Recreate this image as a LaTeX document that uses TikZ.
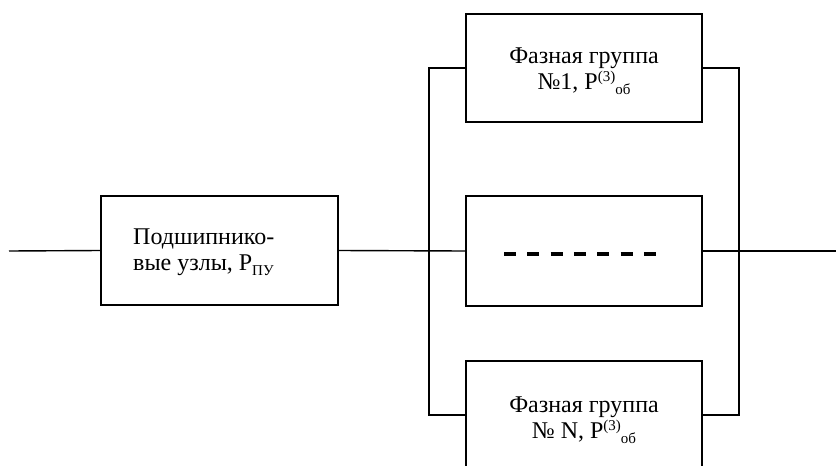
\documentclass[tikz,border=0pt]{standalone}
\usepackage{fontspec}
\setmainfont{Liberation Serif}
\newcommand{\smallidx}[1]{{\fontsize{15}{15}\selectfont #1}}
\newcommand{\lowidx}[1]{\raisebox{-4.5pt}{\smallidx{#1}}}
\newcommand{\highidx}[1]{\raisebox{8pt}{\smallidx{#1}}}
\begin{document}
\begin{tikzpicture}[x=1pt,y=-1pt,
  blockbox/.style={draw, line width=1.6pt, minimum width=236pt, minimum height=108pt, inner sep=0pt},
  wire/.style={line width=1.4pt},
  lbl/.style={font=\fontsize{24}{26.5}\selectfont, align=center, inner sep=0pt}]
\useasboundingbox (0,0) rectangle (836,466);
\clip (0,0) rectangle (836,466);

% bearing assembly block
\node[blockbox, minimum width=237pt, minimum height=109pt] (pu) at (219.5,250.5) {};
\node[lbl, anchor=west, align=left] (putext) at (133,252)
  {Подшипнико-\\вые узлы, P\lowidx{ПУ}};

% phase groups in parallel
\node[blockbox] (g1) at (584,68) {};
\node[lbl] (g1text) at (584,71) {Фазная группа\\№1, P\highidx{(3)}\lowidx{об}};
\node[blockbox, minimum height=110pt] (gm) at (584,251) {};
\node[blockbox] (gn) at (584,415) {};
\node[lbl] (gntext) at (584,420) {Фазная группа\\№ N, P\highidx{(3)}\lowidx{об}};

% placeholder for the omitted groups
\coordinate (dl) at (504,254);
\coordinate (dr) at (656,254);
\draw[line width=4pt, dash pattern=on 12pt off 11.33pt] (dl) -- (dr);

% junctions and free ends
\coordinate (in) at (9,251);
\coordinate (jl) at (429,251);
\coordinate (jr) at (739,251);
\coordinate (out) at (836,251);

\draw[wire] (in) -- (pu.west);
\draw[wire] (pu.east) -- (gm.west);
\draw[wire] (g1.west) -| (jl) |- (gn.west);
\draw[wire] (g1.east) -| (jr) |- (gn.east);
\draw[wire] (gm.east) -- (out);
\end{tikzpicture}
\end{document}
